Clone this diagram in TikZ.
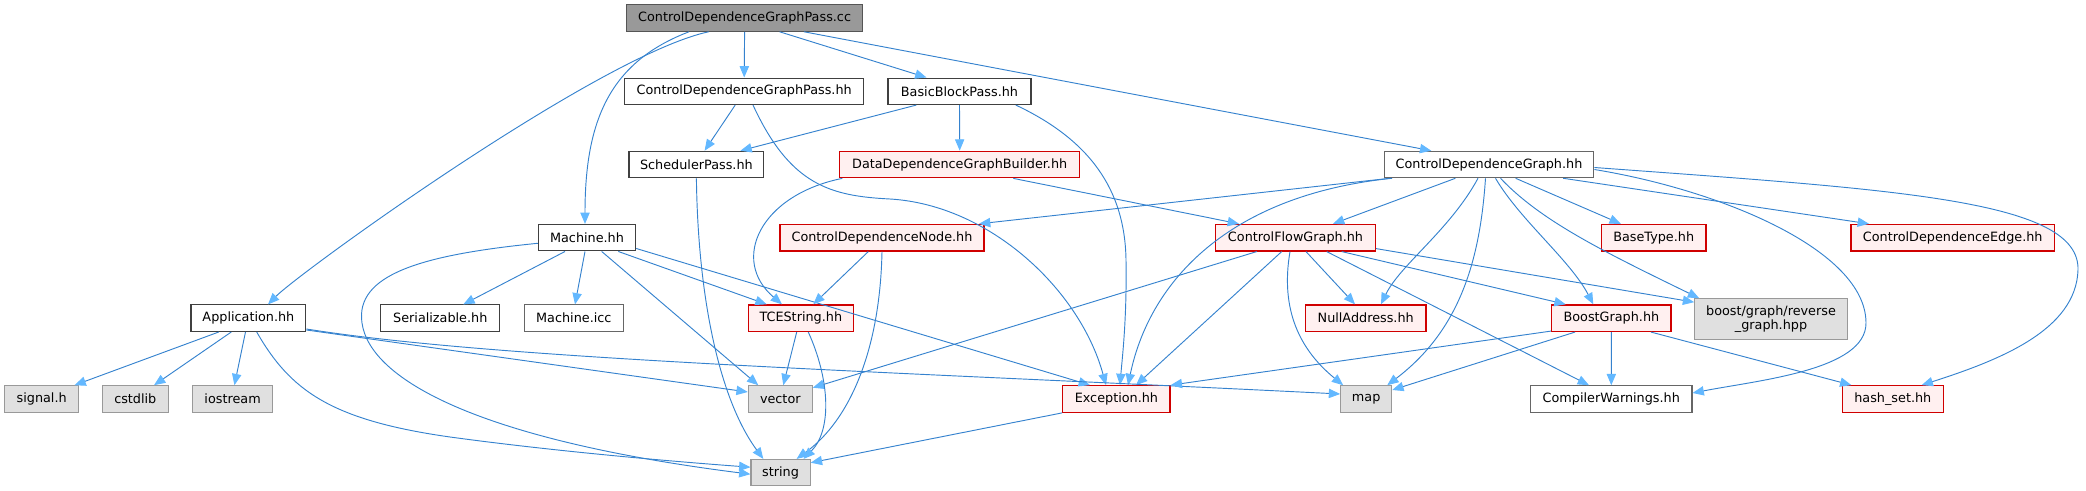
\documentclass[tikz,border=0pt]{standalone}
\usepackage{fontspec}
\setmainfont{DejaVu Sans}
\usetikzlibrary{arrows.meta}
\definecolor{cMainFill}{HTML}{999999}
\definecolor{cMainDraw}{HTML}{555555}
\definecolor{cDark}{HTML}{404040}
\definecolor{cMid}{HTML}{666666}
\definecolor{cRed}{HTML}{D00000}
\definecolor{cRedFill}{HTML}{FFF0F0}
\definecolor{cGrayFill}{HTML}{E0E0E0}
\definecolor{cGrayDraw}{HTML}{999999}
\definecolor{cEdge}{HTML}{3582CE}
\definecolor{cArrow}{HTML}{63B8FF}
\tikzset{
  bw/.style={minimum width=#1*0.75pt},
  box/.style={rectangle, inner sep=0pt, minimum height=26.5*0.75pt, text=black,
    font=\fontsize{9.6}{10.8}\selectfont, line width=0.8pt},
  mainbox/.style={box, fill=cMainFill, draw=cMainDraw},
  wbox/.style={box, fill=white, draw=cDark},
  rbox/.style={box, fill=cRedFill, draw=cRed, line width=0.95pt},
  gbox/.style={box, fill=cGrayFill, draw=cGrayDraw},
  edge/.style={draw=cEdge, line width=0.7pt,
    -{Triangle[length=8.5pt,width=7pt,color=cArrow,fill=cArrow]}}
}
\begin{document}
\begin{tikzpicture}[x=0.75pt, y=-0.75pt]
\useasboundingbox (0,0) rectangle (2086,491);
% nodes
\node[mainbox, bw=236.3] (cc) at (744.6,18) {ControlDependenceGraphPass.cc};
\node[wbox, bw=239.3] (cdgph) at (744.2,91.3) {ControlDependenceGraphPass.hh};
\node[wbox, bw=143] (bbp) at (959.5,91.3) {BasicBlockPass.hh};
\node[wbox, bw=134.8] (sp) at (696.4,164.5) {SchedulerPass.hh};
\node[rbox, bw=239.8] (ddgb) at (959.7,164.5) {DataDependenceGraphBuilder.hh};
\node[wbox, bw=209.6, draw=cMid] (cdg) at (1489,164.5) {ControlDependenceGraph.hh};
\node[wbox, bw=97.4] (mach) at (587,237.7) {Machine.hh};
\node[rbox, bw=204] (cdn) at (882,237.7) {ControlDependenceNode.hh};
\node[rbox, bw=159.6] (cfg) at (1295.5,237.7) {ControlFlowGraph.hh};
\node[rbox, bw=104.7] (bt) at (1653.7,237.7) {BaseType.hh};
\node[rbox, bw=203.3] (cde) at (1952.7,237.7) {ControlDependenceEdge.hh};
\node[wbox, bw=114.8] (app) at (248.4,318.2) {Application.hh};
\node[wbox, bw=119.3] (ser) at (440.3,318.2) {Serializable.hh};
\node[wbox, bw=99, draw=cMid] (icc) at (573.8,318.2) {Machine.icc};
\node[rbox, bw=105] (tces) at (800.8,318.2) {TCEString.hh};
\node[rbox, bw=120.6] (null) at (1365.7,318.2) {NullAddress.hh};
\node[rbox, bw=119.3] (bg) at (1611.4,318.2) {BoostGraph.hh};
\node[gbox, bw=152.6, minimum height=40.6*0.75pt, align=center] (rg) at (1771,319) {boost/graph/reverse\\\_graph.hpp};
\node[gbox, bw=74.5] (sig) at (41.7,399) {signal.h};
\node[gbox, bw=66] (cstd) at (135.3,399) {cstdlib};
\node[gbox, bw=80.4] (ios) at (232.6,399) {iostream};
\node[gbox, bw=64] (vec) at (780.3,399) {vector};
\node[rbox, bw=107.3] (exc) at (1116.4,399) {Exception.hh};
\node[gbox, bw=51] (map) at (1366.2,399) {map};
\node[wbox, bw=161.4, draw=cMid] (cw) at (1611.3,399) {CompilerWarnings.hh};
\node[rbox, bw=100.8] (hs) at (1892.8,399) {hash\_set.hh};
\node[gbox, bw=59.2] (str) at (780.6,472.7) {string};
% edges from cc
\draw[edge] ([shift={(-35.9,0)}]cc.south) .. controls (600,55) and (300,272) .. ([shift={(19.6,0)}]app.north);
\draw[edge] ([shift={(-55.6,0)}]cc.south) .. controls (610,62) and (585,120) .. ([shift={(-2,0)}]mach.north);
\draw[edge] (cc.south) -- (cdgph.north);
\draw[edge] ([shift={(35,0)}]cc.south) -- ([shift={(-33,0)}]bbp.north);
\draw[edge] ([shift={(59.4,0)}]cc.south) -- ([shift={(-57.7,0)}]cdg.north);
% cdgph
\draw[edge] ([shift={(-9,0)}]cdgph.south) -- ([shift={(8.2,0)}]sp.north);
\draw[edge] ([shift={(8.8,0)}]cdgph.south) .. controls (790,185) and (830,196) .. (890,199) .. controls (990,205) and (1080,290) .. ([shift={(-10.4,0)}]exc.north);
% bbp
\draw[edge] ([shift={(-43.2,0)}]bbp.south) -- ([shift={(44,0)}]sp.north);
\draw[edge] (bbp.south) -- (ddgb.north);
\draw[edge] ([shift={(56.3,0)}]bbp.south) .. controls (1090,140) and (1125,190) .. (1126,260) .. controls (1127,320) and (1122,360) .. ([shift={(3.6,0)}]exc.north);
% sp
\draw[edge] (sp.south) .. controls (698,300) and (720,400) .. ([shift={(-17.3,0)}]str.north);
% ddgb
\draw[edge] ([shift={(-117.4,0)}]ddgb.south) .. controls (760,195) and (730,260) .. ([shift={(-18.8,0)}]tces.north);
\draw[edge] ([shift={(53.6,0)}]ddgb.south) -- ([shift={(-56.5,0)}]cfg.north);
% cdg
\draw[edge] ([shift={(-99,0)}]cdg.south) -- ([shift={(97,0)}]cdn.north);
\draw[edge] ([shift={(-97,0)}]cdg.south) .. controls (1230,195) and (1150,280) .. ([shift={(11.6,0)}]exc.north);
\draw[edge] ([shift={(-33.6,0)}]cdg.south) -- ([shift={(37.5,0)}]cfg.north);
\draw[edge] ([shift={(-11,0)}]cdg.south) .. controls (1450,230) and (1400,265) .. ([shift={(15.3,0)}]null.north);
\draw[edge] ([shift={(-3.5,0)}]cdg.south) .. controls (1480,260) and (1460,330) .. ([shift={(-5,0)}]map.north east);
\draw[edge] ([shift={(6.5,0)}]cdg.south) .. controls (1520,220) and (1570,260) .. ([shift={(-18.1,0)}]bg.north);
\draw[edge] ([shift={(11.5,0)}]cdg.south) .. controls (1540,220) and (1600,250) .. ([shift={(5,0)}]rg.north west);
\draw[edge] ([shift={(26.6,0)}]cdg.south) -- ([shift={(-32.9,0)}]bt.north);
\draw[edge] ([shift={(74.2,0)}]cdg.south) -- ([shift={(-83.7,0)}]cde.north);
\draw[edge] ([shift={(0,5)}]cdg.east) .. controls (1720,190) and (1866,250) .. (1866,323) .. controls (1866,370) and (1760,380) .. ([shift={(0,-6)}]cw.east);
\draw[edge] ([shift={(0,3)}]cdg.east) .. controls (1900,190) and (2080,200) .. (2078,270) .. controls (2076,330) and (2000,360) .. ([shift={(28.8,0)}]hs.north);
% mach
\draw[edge] ([shift={(-22,0)}]mach.south) -- ([shift={(23,0)}]ser.north);
\draw[edge] ([shift={(-2,0)}]mach.south) -- ([shift={(1.2,0)}]icc.north);
\draw[edge] ([shift={(14.7,0)}]mach.south) -- ([shift={(-22,0)}]vec.north);
\draw[edge] ([shift={(31.3,0)}]mach.south) -- ([shift={(-34.1,0)}]tces.north);
\draw[edge] ([shift={(0,-3)}]mach.south east) -- ([shift={(-26.4,0)}]exc.north);
\draw[edge] ([shift={(0,5.6)}]mach.west) .. controls (420,255) and (355,275) .. (362,323) .. controls (370,380) and (480,440) .. ([shift={(0,1.5)}]str.west);
% cdn
\draw[edge] ([shift={(-13.7,0)}]cdn.south) -- ([shift={(12.5,0)}]tces.north);
\draw[edge] (cdn.south) .. controls (880,350) and (850,420) .. ([shift={(16,0)}]str.north);
% cfg
\draw[edge] ([shift={(-38.8,0)}]cfg.south) -- ([shift={(0,2.5)}]vec.north east);
\draw[edge] ([shift={(-13.8,0)}]cfg.south) -- ([shift={(19.6,0)}]exc.north);
\draw[edge] ([shift={(-5.5,0)}]cfg.south) .. controls (1280,310) and (1300,350) .. ([shift={(3,0)}]map.north west);
\draw[edge] ([shift={(10.5,0)}]cfg.south) -- ([shift={(-10.7,0)}]null.north);
\draw[edge] ([shift={(31.2,0)}]cfg.south) -- ([shift={(-22.3,0)}]cw.north);
\draw[edge] ([shift={(46.2,0)}]cfg.south) -- ([shift={(-45.7,0)}]bg.north);
\draw[edge] ([shift={(0,-3)}]cfg.south east) -- ([shift={(0,4)}]rg.north west);
% app
\draw[edge] ([shift={(-29.6,0)}]app.south) -- ([shift={(-5,0)}]sig.north east);
\draw[edge] ([shift={(-17.1,0)}]app.south) -- ([shift={(18.7,0)}]cstd.north);
\draw[edge] ([shift={(-2.9,0)}]app.south) -- ([shift={(1.8,0)}]ios.north);
\draw[edge] ([shift={(8.3,0)}]app.south) .. controls (290,390) and (330,420) .. (450,437) .. controls (560,452) and (680,462) .. ([shift={(0,-5.5)}]str.west);
\draw[edge] ([shift={(0,-2)}]app.south east) -- ([shift={(0,-7)}]vec.west);
\draw[edge] ([shift={(0,-3)}]app.south east) .. controls (500,360) and (900,372) .. ([shift={(0,-5)}]map.west);
% tces
\draw[edge] ([shift={(-4.1,0)}]tces.south) -- ([shift={(3,0)}]vec.north);
\draw[edge] ([shift={(7.5,0)}]tces.south) .. controls (830,380) and (832,430) .. ([shift={(23,0)}]str.north);
% exc
\draw[edge] (exc.south west) -- ([shift={(0,-10)}]str.east);
% bg
\draw[edge] ([shift={(0,-1)}]bg.south west) -- (exc.north east);
\draw[edge] ([shift={(-36.4,0)}]bg.south) -- ([shift={(0,-9)}]map.east);
\draw[edge] (bg.south) -- (cw.north);
\draw[edge] ([shift={(39.6,0)}]bg.south) -- ([shift={(-41.4,0)}]hs.north);
\end{tikzpicture}
\end{document}
